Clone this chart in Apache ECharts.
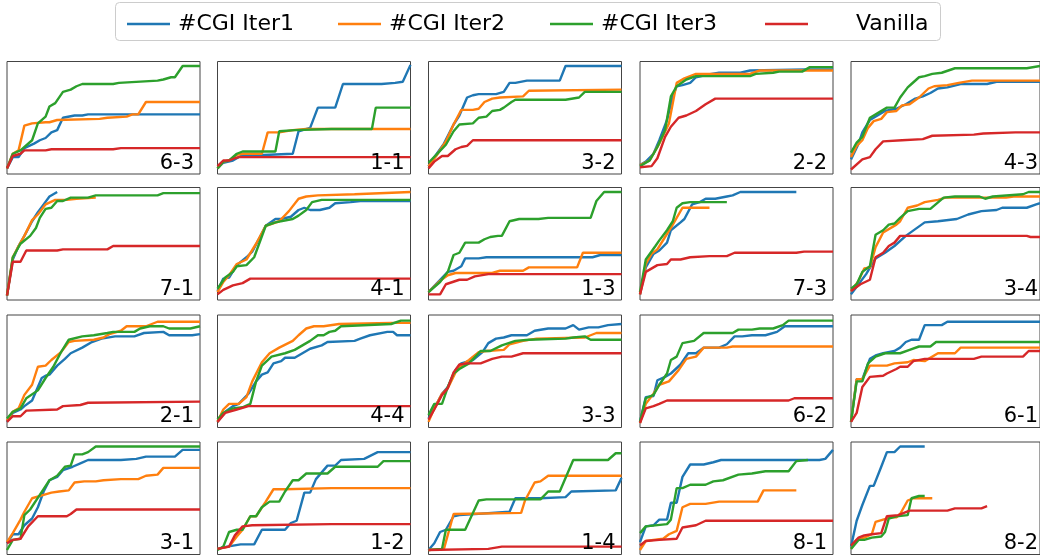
<!DOCTYPE html>
<html>
<head>
<meta charset="utf-8">
<script src="https://cdn.jsdelivr.net/npm/echarts@6/dist/echarts.min.js"></script>
<style>
html,body{margin:0;padding:0;background:#fff;}
#chart{width:1040px;height:556px;}
</style>
</head>
<body>
<div id="chart"></div>
<script>
// ---- data (x: progress 0-100, y: normalized score 0-100) ----
const seriesNames = ['#CGI Iter1', '#CGI Iter2', '#CGI Iter3', 'Vanilla'];
const panelLabels = ['6-3','1-1','3-2','2-2','4-3','7-1','4-1','1-3','7-3','3-4','2-1','4-4','3-3','6-2','6-1','3-1','1-2','1-4','8-1','8-2'];

const iter1 = [
  [[0,5],[3,15],[6,15],[9,23],[14,27],[17,30],[20,32],[23,37],[26,39],[29,50],[35,52],[39,52],[42,53],[100,53]],
  [[0,5],[3,10],[8,12],[12,16],[39,18],[42,38],[48,41],[52,59],[61,59],[65,80],[85,80],[92,81],[96,82],[100,97]],
  [[0,7],[3,15],[8,27],[13,44],[16,52],[20,68],[23,70],[26,71],[35,71],[39,73],[42,81],[45,81],[51,83],[68,83],[71,96],[100,96]],
  [[0,8],[3,11],[7,18],[10,30],[14,48],[17,69],[19,78],[22,79],[26,81],[29,86],[34,88],[41,90],[52,90],[57,92],[86,93],[100,93]],
  [[0,13],[4,27],[6,37],[10,48],[14,52],[18,56],[24,58],[29,62],[34,67],[38,69],[42,72],[46,76],[51,77],[58,80],[72,80],[77,82],[100,82]],
  [[0,4],[3,36],[6,48],[9,57],[13,70],[16,78],[19,85],[22,92],[26,96]],
  [[0,8],[3,19],[6,20],[10,31],[15,38],[18,43],[22,56],[25,66],[30,72],[33,72],[38,74],[42,80],[45,82],[48,80],[53,80],[58,82],[61,86],[69,87],[74,88],[100,88]],
  [[0,7],[10,25],[13,26],[17,30],[19,37],[26,37],[30,38],[85,38],[89,40],[100,40]],
  [[0,5],[3,29],[7,41],[10,44],[14,51],[16,62],[21,69],[23,72],[27,85],[31,87],[34,90],[39,90],[45,92],[48,93],[52,96],[81,96]],
  [[0,5],[4,14],[8,23],[13,37],[18,42],[23,48],[29,57],[34,63],[39,69],[46,70],[56,72],[62,76],[69,79],[77,80],[80,82],[93,82],[98,85],[100,86]],
  [[0,5],[3,13],[7,16],[9,19],[13,24],[15,32],[18,44],[20,46],[22,47],[26,55],[30,61],[33,66],[39,71],[44,76],[49,79],[56,81],[66,81],[71,84],[81,85],[84,82],[96,82],[100,83]],
  [[0,5],[4,14],[8,19],[11,21],[16,30],[20,41],[23,47],[26,49],[29,57],[33,59],[35,62],[40,62],[44,66],[48,70],[54,73],[57,76],[71,77],[74,79],[79,82],[88,85],[91,85],[93,82],[100,82]],
  [[0,8],[3,17],[7,30],[10,36],[14,51],[17,57],[23,60],[28,67],[31,75],[35,79],[39,80],[43,82],[51,82],[55,86],[62,88],[71,88],[75,91],[78,87],[83,89],[88,89],[93,91],[100,92]],
  [[0,5],[3,27],[7,28],[9,42],[13,45],[16,48],[21,56],[25,66],[29,66],[33,71],[41,71],[45,74],[49,81],[53,81],[58,82],[65,82],[71,85],[75,90],[100,90]],
  [[0,5],[3,43],[6,43],[10,61],[13,64],[17,66],[23,68],[26,71],[29,76],[32,78],[36,78],[39,91],[48,91],[51,94],[100,94]],
  [[0,10],[3,18],[6,18],[9,26],[13,32],[16,42],[19,56],[22,66],[26,69],[29,75],[34,78],[38,81],[42,84],[59,84],[67,85],[72,87],[87,87],[91,93],[100,93]],
  [[0,5],[5,7],[12,9],[19,9],[23,22],[35,22],[38,28],[41,30],[45,55],[48,55],[51,67],[57,79],[61,79],[64,84],[76,85],[83,91],[100,91]],
  [[0,4],[3,10],[6,20],[9,22],[13,34],[16,35],[42,38],[45,50],[58,50],[71,51],[74,56],[97,57],[100,68]],
  [[0,11],[3,25],[7,26],[10,31],[14,31],[16,46],[19,46],[22,69],[26,80],[33,80],[38,82],[42,84],[93,84],[96,85],[100,93]],
  [[0,7],[3,30],[6,44],[10,61],[12,61],[16,78],[19,91],[23,91],[26,96],[39,96]]
];

const iter2 = [
  [[0,5],[3,18],[6,21],[9,43],[13,45],[20,46],[22,46],[26,48],[48,49],[52,50],[62,51],[65,53],[68,53],[72,64],[100,64]],
  [[0,5],[3,11],[6,12],[10,17],[13,18],[23,18],[26,37],[32,37],[39,39],[46,40],[100,40]],
  [[0,7],[4,16],[9,29],[13,44],[17,57],[23,57],[26,58],[29,64],[33,67],[37,68],[49,69],[52,74],[100,75]],
  [[0,8],[5,12],[10,27],[15,45],[19,81],[23,85],[29,89],[57,89],[62,92],[76,92],[86,92],[100,92]],
  [[0,15],[3,25],[6,30],[9,41],[12,47],[16,49],[19,55],[24,56],[27,61],[31,62],[36,68],[41,76],[44,78],[51,79],[57,81],[64,83],[100,83]],
  [[0,4],[3,38],[6,48],[9,57],[13,71],[16,76],[20,85],[25,89],[31,89],[36,90],[46,91]],
  [[0,7],[3,16],[6,22],[10,32],[15,36],[20,50],[25,66],[32,70],[37,79],[42,90],[46,92],[52,93],[71,94],[100,96]],
  [[0,7],[6,17],[10,22],[14,24],[33,24],[37,26],[49,26],[52,29],[77,29],[80,42],[100,42]],
  [[0,5],[3,32],[6,41],[9,45],[13,56],[17,67],[22,82],[36,82]],
  [[0,8],[4,17],[7,28],[10,29],[13,47],[17,60],[24,67],[26,70],[30,82],[35,84],[39,87],[46,89],[50,91],[82,91],[86,92],[100,92]],
  [[0,6],[3,14],[6,17],[9,29],[13,38],[16,54],[20,55],[23,60],[28,67],[32,76],[35,77],[45,78],[50,80],[53,83],[59,86],[62,90],[72,90],[78,94],[100,94]],
  [[0,5],[3,16],[6,21],[11,21],[15,27],[18,41],[23,58],[27,66],[32,71],[39,77],[42,82],[46,88],[50,90],[55,90],[63,92],[90,93],[100,93]],
  [[0,5],[3,17],[7,30],[10,35],[14,49],[17,55],[21,60],[26,67],[30,68],[39,69],[42,74],[49,77],[56,79],[81,80],[87,84],[100,84]],
  [[0,4],[3,21],[7,30],[10,38],[15,41],[20,51],[24,61],[29,63],[33,71],[45,71],[48,72],[100,72]],
  [[0,5],[3,43],[6,43],[10,55],[19,55],[23,57],[30,58],[33,60],[39,59],[46,66],[55,66],[58,71],[100,71]],
  [[0,11],[3,19],[7,31],[9,38],[13,50],[19,53],[23,55],[27,56],[32,57],[35,64],[40,65],[46,65],[50,66],[59,67],[68,67],[72,70],[78,71],[81,77],[100,77]],
  [[0,5],[6,7],[10,16],[13,22],[17,34],[20,34],[25,47],[29,58],[35,58],[59,59],[100,59]],
  [[0,4],[8,5],[13,36],[48,37],[50,48],[55,64],[58,65],[62,70],[100,70]],
  [[0,4],[3,12],[7,13],[12,14],[15,18],[19,21],[22,42],[26,45],[34,45],[41,47],[61,47],[64,57],[81,57]],
  [[0,5],[3,13],[7,15],[11,18],[13,29],[17,31],[21,33],[24,33],[26,36],[30,48],[33,50],[43,50]]
];

const iter3 = [
  [[0,5],[3,18],[7,21],[13,30],[16,45],[20,51],[22,60],[25,63],[29,73],[33,75],[36,78],[39,80],[55,80],[58,81],[78,83],[81,84],[85,86],[87,86],[91,96],[100,96]],
  [[0,5],[3,11],[6,12],[10,18],[13,20],[30,20],[32,38],[40,39],[59,40],[80,40],[82,59],[100,59]],
  [[0,10],[4,17],[9,26],[13,38],[16,44],[23,45],[26,50],[30,51],[33,56],[37,57],[39,59],[43,64],[45,66],[71,66],[78,68],[81,73],[100,73]],
  [[0,7],[5,12],[9,24],[13,39],[16,69],[19,78],[24,84],[29,87],[57,87],[60,89],[69,90],[72,91],[84,91],[88,95],[100,95]],
  [[0,19],[3,28],[6,33],[10,50],[12,52],[17,57],[19,59],[23,59],[26,68],[30,77],[32,80],[36,86],[39,87],[43,89],[48,90],[55,94],[93,94],[100,96]],
  [[0,4],[3,38],[7,50],[12,57],[15,64],[17,73],[20,81],[23,82],[26,88],[29,88],[33,91],[42,91],[46,93],[78,93],[81,95],[100,95]],
  [[0,10],[4,20],[8,25],[10,30],[15,31],[19,38],[25,66],[30,69],[39,72],[42,75],[46,80],[49,87],[54,89],[100,89]],
  [[0,7],[6,16],[10,25],[13,40],[16,42],[19,51],[26,51],[29,54],[32,56],[36,57],[38,57],[42,70],[47,72],[57,72],[62,73],[84,73],[87,88],[91,96],[100,96]],
  [[0,7],[3,36],[8,48],[10,53],[14,62],[17,70],[19,82],[22,86],[26,87],[45,87]],
  [[0,10],[3,14],[6,25],[10,30],[13,58],[17,62],[20,67],[23,68],[26,73],[30,79],[36,81],[42,81],[49,91],[55,92],[68,92],[71,90],[75,92],[91,94],[94,96],[100,96]],
  [[0,8],[3,14],[7,17],[10,26],[16,33],[20,44],[24,54],[28,67],[32,78],[39,81],[45,82],[52,84],[55,85],[66,85],[69,88],[74,90],[81,90],[84,88],[95,88],[100,90]],
  [[0,7],[3,13],[8,17],[13,18],[17,21],[20,41],[23,55],[28,63],[35,66],[40,69],[44,73],[48,77],[52,82],[55,82],[58,85],[61,86],[64,90],[90,92],[95,95],[100,95]],
  [[0,11],[3,21],[7,21],[10,36],[13,48],[16,52],[21,57],[27,68],[32,68],[38,73],[45,77],[52,78],[71,79],[75,80],[81,81],[84,78],[100,78]],
  [[0,5],[3,26],[7,29],[10,38],[14,48],[16,60],[19,63],[22,75],[28,77],[33,84],[48,84],[51,87],[58,87],[62,88],[69,88],[74,91],[77,95],[100,95]],
  [[0,5],[3,41],[6,41],[9,57],[13,63],[18,66],[26,66],[31,69],[36,72],[42,72],[45,76],[100,76]],
  [[0,4],[3,13],[7,14],[9,35],[12,40],[17,53],[22,66],[26,70],[30,78],[33,79],[35,89],[39,89],[42,91],[46,96],[83,96],[100,96]],
  [[0,4],[3,7],[6,20],[10,22],[13,22],[17,34],[20,34],[23,42],[27,47],[32,47],[35,56],[39,66],[42,66],[46,72],[57,72],[61,78],[83,78],[86,83],[100,83]],
  [[0,4],[7,5],[9,22],[19,22],[26,48],[30,49],[58,49],[62,56],[68,56],[75,84],[93,84],[97,90],[100,90]],
  [[0,19],[3,25],[14,27],[16,31],[19,59],[22,59],[26,62],[34,62],[38,65],[43,66],[51,71],[58,72],[65,74],[77,74],[81,83],[87,84]],
  [[0,5],[4,13],[7,13],[11,15],[16,16],[18,20],[20,32],[24,34],[30,35],[32,50],[36,52],[39,52]]
];

const vanilla = [
  [[0,5],[3,16],[7,18],[9,21],[20,21],[23,22],[55,22],[59,23],[100,23]],
  [[0,7],[3,12],[6,12],[9,14],[11,15],[100,15]],
  [[0,5],[3,11],[7,16],[10,16],[14,22],[17,24],[20,25],[23,30],[100,30]],
  [[0,6],[6,7],[9,14],[13,33],[16,42],[20,50],[24,52],[29,56],[34,62],[39,67],[100,67]],
  [[0,4],[6,13],[10,15],[13,22],[17,29],[27,30],[38,31],[43,34],[65,35],[70,36],[87,37],[100,37]],
  [[0,4],[3,34],[7,34],[10,44],[26,44],[29,45],[52,45],[55,48],[100,48]],
  [[0,5],[3,9],[8,13],[13,15],[17,19],[100,19]],
  [[0,5],[6,5],[9,14],[16,18],[20,18],[24,21],[31,23],[100,23]],
  [[0,5],[3,25],[9,31],[14,32],[16,36],[21,36],[26,38],[36,39],[45,39],[49,42],[81,42],[85,43],[100,43]],
  [[0,8],[5,14],[10,18],[13,38],[17,42],[20,48],[23,51],[26,57],[93,57],[95,56],[100,56]],
  [[0,5],[3,10],[7,10],[10,15],[26,16],[29,19],[38,20],[42,22],[100,23]],
  [[0,5],[4,13],[10,16],[16,19],[100,19]],
  [[0,7],[3,16],[7,29],[10,35],[13,49],[16,56],[20,57],[27,57],[33,61],[38,63],[43,63],[49,66],[100,66]],
  [[0,4],[3,17],[7,19],[10,21],[14,24],[77,24],[80,26],[100,26]],
  [[0,5],[3,13],[6,36],[10,45],[17,46],[19,48],[24,52],[26,54],[30,54],[33,59],[39,61],[65,61],[69,63],[91,63],[94,68],[100,68]],
  [[0,10],[3,13],[7,14],[11,25],[16,34],[31,34],[33,36],[36,40],[100,40]],
  [[0,5],[6,7],[9,17],[13,25],[18,26],[59,27],[100,27]],
  [[0,4],[31,5],[38,7],[100,7]],
  [[0,8],[3,12],[10,13],[19,14],[22,24],[29,26],[34,30],[100,30]],
  [[0,8],[4,15],[7,17],[11,18],[16,19],[19,34],[25,35],[31,39],[51,39],[55,41],[69,41],[72,43]]
];

// ---- layout ----
const colors = ['#1f77b4', '#ff7f0e', '#2ca02c', '#d62728'];
const colLeft = [7, 217.5, 428.5, 640, 851];
const rowTop = [61.5, 187.5, 315, 442];
const panelW = 193, panelH = 112.5;
const FONT = '"DejaVu Sans", sans-serif';

const allSeries = [iter1, iter2, iter3, vanilla];
const grids = [], xAxes = [], yAxes = [], series = [], graphics = [];

graphics.push({
  type: 'rect', z: -10,
  shape: { x: 115.5, y: 2.5, width: 825, height: 38, r: 4 },
  style: { fill: '#fff', stroke: '#cccccc', lineWidth: 1 }
});

panelLabels.forEach((lab, i) => {
  const r = Math.floor(i / 5), c = i % 5;
  const left = colLeft[c], top = rowTop[r];
  grids.push({ left: left, top: top, width: panelW, height: panelH, show: true,
    borderColor: '#444', borderWidth: 1, backgroundColor: 'transparent' });
  xAxes.push({ gridIndex: i, type: 'value', min: 0, max: 100, show: false });
  yAxes.push({ gridIndex: i, type: 'value', min: 0, max: 100, show: false });
  allSeries.forEach((s, k) => {
    series.push({
      type: 'line', name: seriesNames[k], xAxisIndex: i, yAxisIndex: i,
      data: s[i], showSymbol: false, symbol: 'none',
      lineStyle: { width: 2.4, color: colors[k] }, itemStyle: { color: colors[k] },
      z: 2 + k, silent: true
    });
  });
  graphics.push({
    type: 'text', z: 50,
    style: {
      text: lab, x: left + panelW - 6, y: top + panelH - 10.5,
      textAlign: 'right', textVerticalAlign: 'middle', align: 'right', verticalAlign: 'middle',
      font: '21px ' + FONT, fill: '#000'
    }
  });
});

const legendLefts = [122, 333, 545, 760];
const legendPads = [8, 8, 8, 48];
const legends = seriesNames.map((n, k) => ({
  data: [n], left: legendLefts[k], top: 8, itemWidth: 43, itemHeight: 2.5, icon: 'rect',
  textStyle: { fontSize: 22, fontFamily: FONT, color: '#000', padding: [0, 0, 0, legendPads[k] - 5] },
  selectedMode: false
}));

const chart = echarts.init(document.getElementById('chart'), null, { renderer: 'canvas' });
chart.setOption({
  animation: false,
  backgroundColor: '#fff',
  legend: legends,
  grid: grids, xAxis: xAxes, yAxis: yAxes, series: series,
  graphic: graphics
});
</script>
</body>
</html>
